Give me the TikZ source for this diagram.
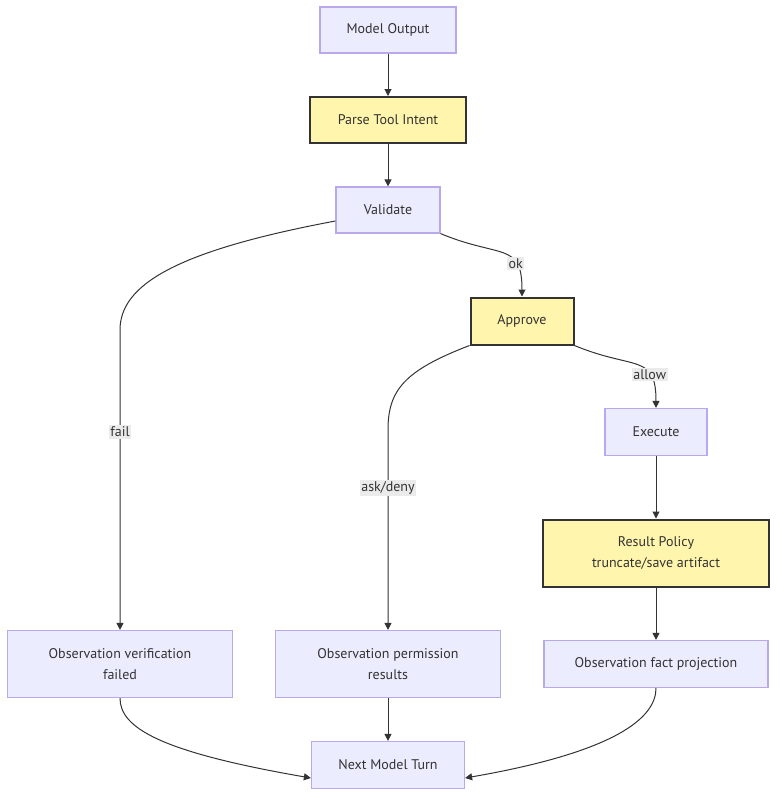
\documentclass[tikz,border=0pt]{standalone}
\usepackage{fontspec}
\setmainfont{PT Sans}
\usetikzlibrary{arrows.meta}
\definecolor{boxfill}{HTML}{ECECFF}
\definecolor{boxline}{HTML}{B9A9EC}
\definecolor{hotfill}{HTML}{FFF5AD}
\definecolor{edgecol}{HTML}{333333}
\definecolor{lblfill}{HTML}{EBEBEB}
\tikzset{
  plain/.style={draw=boxline, fill=boxfill, line width=1.2pt, align=center, inner sep=0pt,
    font=\fontsize{14}{21}\selectfont, text=edgecol},
  hot/.style={plain, draw=edgecol, fill=hotfill, line width=2pt},
  edge/.style={draw=edgecol, line width=1pt, -{Triangle[length=7pt,width=7pt]}},
  lbl/.style={fill=lblfill, inner sep=1.5pt, font=\fontsize{14}{16}\selectfont, text=edgecol},
}
\begin{document}
\begin{tikzpicture}[x=1pt, y=-1pt]
  \useasboundingbox (0,0) rectangle (784,804);
  % main chain
  \node[plain, minimum width=136, minimum height=46] (out) at (388,30) {Model Output};
  \node[hot, minimum width=156, minimum height=46] (parse) at (388,120) {Parse Tool Intent};
  \node[plain, minimum width=104, minimum height=46] (valid) at (388,210) {Validate};
  \node[hot, minimum width=103, minimum height=47] (approve) at (522,321) {Approve};
  \node[plain, minimum width=102, minimum height=47] (exec) at (656,432) {Execute};
  \node[hot, minimum width=226, minimum height=67] (policy) at (656,553) {Result Policy\\truncate/save artifact};
  % observations
  \node[plain, minimum width=225, minimum height=67] (failobs) at (120,664) {Observation verification\\failed};
  \node[plain, minimum width=225, minimum height=67] (permobs) at (388,664) {Observation permission\\results};
  \node[plain, minimum width=224, minimum height=47] (factobs) at (656,664) {Observation fact projection};
  \node[plain, minimum width=153, minimum height=47] (next) at (388,765) {Next Model Turn};

  \draw[edge] (out) -- (parse);
  \draw[edge] (parse) -- (valid);
  \draw[edge] ([yshift=-11pt]valid.west) .. controls +(-160,30) and +(0,-45) .. (120,330)
    -- node[lbl, pos=0.34] {fail} (failobs.north);
  \draw[edge] (valid.south east) .. controls +(60,25) and +(0,-55) .. (approve.north)
    node[lbl, pos=0.7] {ok};
  \draw[edge] (approve.south west) .. controls +(-65,25) and +(0,-40) .. (388,430)
    -- node[lbl, pos=0.29] {ask/deny} (permobs.north);
  \draw[edge] (approve.south east) .. controls +(60,25) and +(0,-55) .. (exec.north)
    node[lbl, pos=0.7] {allow};
  \draw[edge] (exec) -- (policy);
  \draw[edge] (policy) -- (factobs);
  \draw[edge] (failobs.south) .. controls +(0,30) and +(-150,-26) .. ([yshift=-13pt]next.west);
  \draw[edge] (permobs) -- (next);
  \draw[edge] (factobs.south) .. controls +(0,30) and +(150,-26) .. ([yshift=-13pt]next.east);
\end{tikzpicture}
\end{document}
